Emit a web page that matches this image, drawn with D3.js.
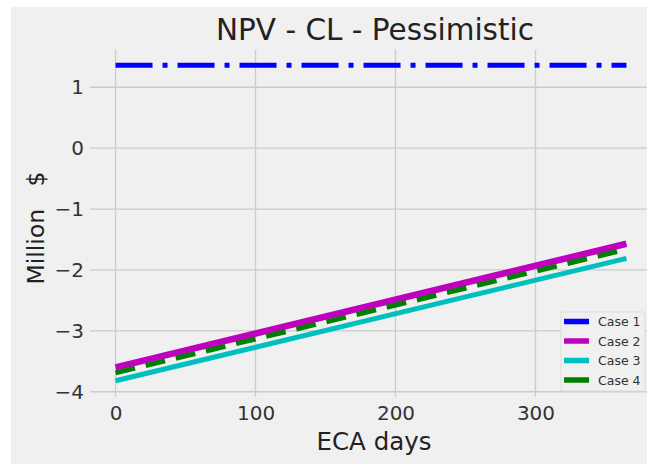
<!DOCTYPE html>
<html>
<head>
<meta charset="utf-8">
<script src="https://cdn.jsdelivr.net/npm/d3@7"></script>
<style>
  body { margin: 0; background: #ffffff; }
  svg { display: block; font-family: "DejaVu Sans", sans-serif; }
</style>
</head>
<body>
<div id="chart"></div>
<script>
// data
const eca_days = [0, 365];
const case_1 = [1.36, 1.36];
const case_2 = [-3.6, -1.57];
const case_3 = [-3.82, -1.81];
const case_4 = [-3.69, -1.66];

const series_names = ["Case 1", "Case 2", "Case 3", "Case 4"];
const series_values = [case_1, case_2, case_3, case_4];
const x_ticks = [0, 100, 200, 300];
const y_ticks = [-4, -3, -2, -1, 0, 1];

const styles = [
  { color: "#0000ff", width: 5, dash: "37,10,5,10" },
  { color: "#bf00bf", width: 6.5, dash: null },
  { color: "#00bfbf", width: 5, dash: null },
  { color: "#008000", width: 5, dash: "20,11" },
];

const svg_width = 647;
const svg_height = 464;

const svg = d3
  .select("#chart")
  .append("svg")
  .attr("width", svg_width)
  .attr("height", svg_height);

// figure background (image is cropped at right/bottom)
svg
  .append("rect")
  .attr("x", 11)
  .attr("y", 7)
  .attr("width", svg_width - 11)
  .attr("height", svg_height - 7)
  .attr("fill", "#f0f0f0");

const x_axis = d3.scaleLinear().domain([-18.25, 383.25]).range([90, 652]);
const y_axis = d3.scaleLinear().domain([-4.08, 1.62]).range([396.6, 49.5]);

const [plot_left, plot_right] = x_axis.range();
const [plot_bottom, plot_top] = y_axis.range();

// grid
const grid = svg.append("g").attr("stroke", "#cbcbcb").attr("stroke-width", 1.3);
grid
  .selectAll(".v_grid")
  .data(x_ticks)
  .join("line")
  .attr("x1", (d) => x_axis(d))
  .attr("x2", (d) => x_axis(d))
  .attr("y1", plot_top)
  .attr("y2", plot_bottom);
grid
  .selectAll(".h_grid")
  .data(y_ticks)
  .join("line")
  .attr("x1", plot_left)
  .attr("x2", plot_right)
  .attr("y1", (d) => y_axis(d))
  .attr("y2", (d) => y_axis(d));

// tick labels
svg
  .append("g")
  .attr("transform", `translate(0,${plot_bottom})`)
  .call(d3.axisBottom(x_axis).tickValues(x_ticks).tickSize(0).tickPadding(9))
  .call((g) => g.select(".domain").remove())
  .selectAll("text")
  .attr("font-size", 20)
  .attr("fill", "#333333")
  .attr("font-family", "DejaVu Sans");

svg
  .append("g")
  .attr("transform", `translate(${plot_left},0)`)
  .call(
    d3
      .axisLeft(y_axis)
      .tickValues(y_ticks)
      .tickSize(0)
      .tickPadding(6)
      .tickFormat((d) => (d < 0 ? "\u2212" + Math.abs(d) : String(d)))
  )
  .call((g) => g.select(".domain").remove())
  .selectAll("text")
  .attr("font-size", 20)
  .attr("fill", "#333333")
  .attr("font-family", "DejaVu Sans");

// lines
const line = d3
  .line()
  .x((d, i) => x_axis(eca_days[i]))
  .y((d) => y_axis(d));

series_values.forEach((values, i) => {
  const s = styles[i];
  svg
    .append("path")
    .datum(values)
    .attr("fill", "none")
    .attr("stroke", s.color)
    .attr("stroke-width", s.width)
    .attr("stroke-dasharray", s.dash)
    .attr("d", line);
});

// title and axis labels
svg
  .append("text")
  .attr("x", 375)
  .attr("y", 40)
  .attr("text-anchor", "middle")
  .attr("font-size", 29.5)
  .attr("fill", "#222222")
  .text("NPV - CL - Pessimistic");

svg
  .append("text")
  .attr("x", 374)
  .attr("y", 450)
  .attr("text-anchor", "middle")
  .attr("font-size", 24.5)
  .attr("fill", "#222222")
  .text("ECA days");

svg
  .append("text")
  .attr("transform", "translate(44,228) rotate(-90)")
  .attr("text-anchor", "middle")
  .attr("font-size", 23.5)
  .attr("fill", "#222222")
  .text("Million\u00a0\u00a0\u00a0$");

// legend
const legend = svg.append("g").attr("transform", "translate(561,312)");
legend
  .append("rect")
  .attr("width", 84)
  .attr("height", 79)
  .attr("rx", 2)
  .attr("fill", "#f0f0f0")
  .attr("stroke", "#dddddd")
  .attr("stroke-width", 1);

series_names.forEach((name, i) => {
  const y = 9.5 + i * 19.5;
  legend
    .append("line")
    .attr("x1", 3)
    .attr("x2", 28)
    .attr("y1", y)
    .attr("y2", y)
    .attr("stroke", styles[i].color)
    .attr("stroke-width", 5.5);
  legend
    .append("text")
    .attr("x", 37)
    .attr("y", y + 4.5)
    .attr("font-size", 12.5)
    .attr("fill", "#333333")
    .text(name);
});
</script>
</body>
</html>
